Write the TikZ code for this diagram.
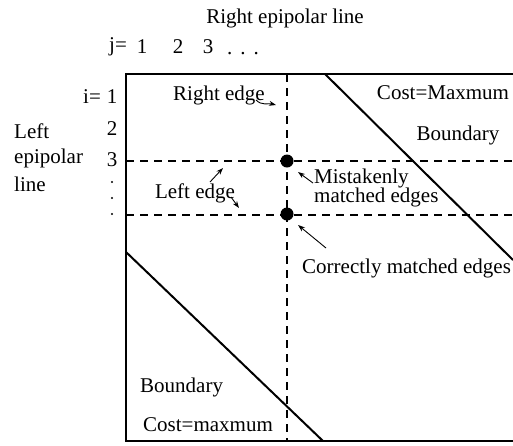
\documentclass[tikz,border=0pt]{standalone}
\usepackage{fontspec}
\setmainfont{Liberation Serif}
\usetikzlibrary{arrows.meta}
\begin{document}
\begin{tikzpicture}[x=1pt,y=-1pt,
  every node/.style={font=\fontsize{21}{24}\selectfont, inner sep=0pt},
  lbl/.style={anchor=center},
  llbl/.style={anchor=west},
  vdot/.style={anchor=center, text height=2.5pt, text depth=0pt},
  sdot/.style={circle, fill=black, minimum size=2.4pt, inner sep=0pt},
  frame/.style={line width=2.2pt},
  dsh/.style={line width=2pt, dash pattern=on 8pt off 6pt},
  diag/.style={line width=2pt},
  ptr/.style={line width=0.9pt, -{Stealth[length=7pt,width=5pt]}},
  dot/.style={circle, fill=black, minimum size=13pt, inner sep=0pt}]
\useasboundingbox (0,0) rectangle (513,445);
% frame
\coordinate (tl) at (126,74);
\coordinate (tr) at (513,74);
\coordinate (bl) at (126,441);
\coordinate (br) at (513,441);
\draw[frame] (tr) -- (tl) -- (bl) -- (br);
% dashed grid
\coordinate (vt) at (287,74);
\coordinate (vb) at (287,441);
\coordinate (h1l) at (126,161);
\coordinate (h1r) at (513,161);
\coordinate (h2l) at (126,215);
\coordinate (h2r) at (513,215);
\draw[dsh] (vt) -- (vb);
\draw[dsh] (h1l) -- (h1r);
\draw[dsh] (h2l) -- (h2r);
% diagonals
\coordinate (d1a) at (325,74);
\coordinate (d1b) at (513,260);
\coordinate (d2a) at (126,252);
\coordinate (d2b) at (323,441);
\draw[diag] (d1a) -- (d1b);
\draw[diag] (d2a) -- (d2b);
% dots
\node[dot] (m1) at (287,161) {};
\node[dot] (m2) at (287,214) {};
% top labels
\node[lbl] (title) at (285,18) {Right epipolar line};
\node[lbl] (jeq) at (118,47) {j=};
\node[lbl] (j1) at (142,47) {1};
\node[lbl] (j2) at (178,47) {2};
\node[lbl] (j3) at (208,47) {3};
\node[vdot] (jd) at (243,53) {.\hspace{8pt}.\hspace{8pt}.};
% left labels
\node[lbl] (ieq) at (92,97) {i=};
\node[lbl] (i1) at (112,97) {1};
\node[lbl] (i2) at (112,129) {2};
\node[lbl] (i3) at (112,160) {3};
\node[sdot] (id1) at (112,182) {};
\node[sdot] (id2) at (112,198) {};
\node[sdot] (id3) at (112,214) {};
\node[llbl] (left1) at (14,131) {Left};
\node[llbl] (left2) at (14,158) {epipolar};
\node[llbl] (left3) at (14,184) {line};
% region labels
\node[lbl] (redge) at (219,95) {Right edge};
\node[lbl] (costM) at (443,93) {Cost=Maxmum};
\node[lbl] (bnd1) at (458,135) {Boundary};
\node[lbl] (ledge) at (195,193) {Left edge};
\node[llbl] (mist1) at (314,178) {Mistakenly};
\node[llbl] (mist2) at (314,197) {matched edges};
\node[llbl] (corr) at (302,268) {Correctly matched edges};
\node[llbl] (bnd2) at (140,387) {Boundary};
\node[llbl] (costm) at (143,425) {Cost=maxmum};
% pointer arrows
\coordinate (ra) at (256,100);
\coordinate (rb) at (276,105);
\draw[ptr] (ra) .. controls (262,106) and (268,103) .. (rb);
\coordinate (la1) at (210,182);
\coordinate (lb1) at (223,168);
\draw[ptr] (la1) -- (lb1);
\coordinate (la2) at (231,197);
\coordinate (lb2) at (239,208);
\draw[ptr] (la2) -- (lb2);
\coordinate (ma) at (313,183);
\coordinate (mb) at (298,172);
\draw[ptr] (ma) -- (mb);
\coordinate (ca) at (326,248);
\coordinate (cb) at (298,225);
\draw[ptr] (ca) -- (cb);
\end{tikzpicture}
\end{document}
